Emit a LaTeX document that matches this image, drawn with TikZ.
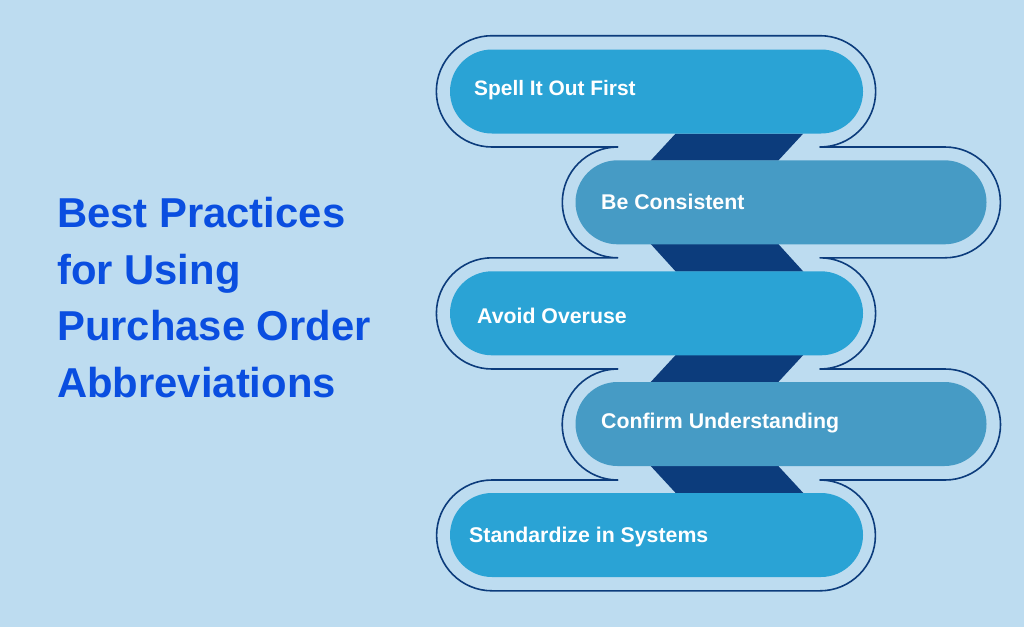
\documentclass[tikz,border=0pt]{standalone}
\usepackage{fontspec}
\setmainfont{Liberation Sans}
\usetikzlibrary{shapes.misc}
\definecolor{bg}{HTML}{BDDCF0}
\definecolor{pillA}{HTML}{2AA3D5}
\definecolor{pillB}{HTML}{469BC5}
\definecolor{darkblue}{HTML}{0C3C7C}
\definecolor{titleblue}{HTML}{0A4EE0}
\tikzset{
  pillbox/.style={rounded rectangle,minimum height=84pt,inner sep=0pt,outer sep=0pt,draw=none},
  pillone/.style={pillbox,fill=pillA,minimum width=413pt},
  pilltwo/.style={pillbox,fill=pillB,minimum width=411pt},
  itemtext/.style={text=white,font=\fontsize{21.3}{25}\selectfont\bfseries,anchor=base west,inner sep=0pt},
  titletext/.style={text=titleblue,font=\fontsize{41.8}{50}\selectfont\bfseries,anchor=base west,inner sep=0pt},
  linkbar/.style={fill=darkblue,draw=none},
  contour/.style={draw=darkblue,line width=1.6pt,line join=round}
}
\begin{document}
\begin{tikzpicture}[x=1pt,y=-1pt]
\useasboundingbox[fill=bg] (0,0) rectangle (1024,627);
% links
\fill[linkbar] (675.7,133.5) -- (803.3,133.5) -- (778.3,160.5) -- (650.7,160.5) -- cycle;
\fill[linkbar] (650.7,244) -- (778.3,244) -- (803.3,271.5) -- (675.7,271.5) -- cycle;
\fill[linkbar] (675.7,355) -- (803.3,355) -- (778.3,382) -- (650.7,382) -- cycle;
\fill[linkbar] (650.7,466) -- (778.3,466) -- (803.3,493) -- (675.7,493) -- cycle;
% pills
\node[pillone] (p1) at (656.5,91.5) {};
\node[pilltwo] (p2) at (781,202.3) {};
\node[pillone] (p3) at (656.5,313.3) {};
\node[pilltwo] (p4) at (781,424) {};
\node[pillone] (p5) at (656.5,535) {};
% outline
\draw[contour]
  (492,35.7) -- (820,35.7) arc[start angle=-90,end angle=90,radius=55.65]
  -- (945,147) arc[start angle=-90,end angle=90,radius=55.4]
  -- (820,257.8) arc[start angle=-90,end angle=90,radius=55.6]
  -- (945,369) arc[start angle=-90,end angle=90,radius=55.5]
  -- (820,480) arc[start angle=-90,end angle=90,radius=55.4]
  -- (492,590.8) arc[start angle=90,end angle=270,radius=55.4]
  -- (617.7,480) arc[start angle=90,end angle=270,radius=55.5]
  -- (492,369) arc[start angle=90,end angle=270,radius=55.6]
  -- (617.7,257.8) arc[start angle=90,end angle=270,radius=55.4]
  -- (492,147) arc[start angle=90,end angle=270,radius=55.65];
% item text
\node[itemtext,font=\fontsize{20.9}{25}\selectfont\bfseries] (t1) at (474,95) {Spell It Out First};
\node[itemtext] (t2) at (601,209) {Be Consistent};
\node[itemtext] (t3) at (477,323) {Avoid Overuse};
\node[itemtext] (t4) at (601,428) {Confirm Understanding};
\node[itemtext] (t5) at (469,542) {Standardize in Systems};
% title
\node[titletext] (h1) at (57,227) {Best Practices};
\node[titletext] (h2) at (57,284) {for Using};
\node[titletext] (h3) at (57,340.5) {Purchase Order};
\node[titletext] (h4) at (57,397) {Abbreviations};
\end{tikzpicture}
\end{document}
